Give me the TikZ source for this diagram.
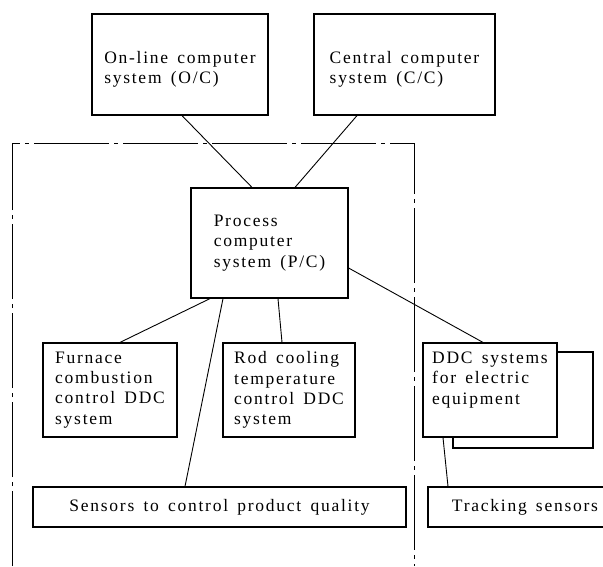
\documentclass[tikz,border=0pt]{standalone}
\usepackage{fontspec}
\setmainfont{Liberation Serif}[LetterSpace=10, WordSpace=1.5]

\begin{document}
\begin{tikzpicture}[x=1pt, y=-1pt,
  sysbox/.style={draw, line width=1.2pt, fill=white, align=left, inner sep=0pt,
     font=\fontsize{17.5pt}{20.3pt}\selectfont},
  link/.style={line width=0.9pt},
  boundary/.style={line width=0.9pt, dash pattern=on 75pt off 5pt on 4pt off 5pt}]
  \useasboundingbox (0,0) rectangle (603,566);
  \clip (0,0) rectangle (603,566);
  % plant boundary (open at the bottom)
  \draw[boundary] (12,566) -- (12,143) -- (414,143) -- (414,566);
  \node[sysbox, minimum width=176pt, minimum height=101pt, text height=42pt] (oc) at (180,64.5) {On-line computer\\system (O/C)};
  \node[sysbox, minimum width=181pt, minimum height=101pt, text height=42pt] (cc) at (404.5,64.5) {Central computer\\system (C/C)};
  \node[sysbox, minimum width=157pt, minimum height=110pt] (pc) at (269.5,243) {Process\\computer\\system (P/C)};
  \node[sysbox, minimum width=134pt, minimum height=94pt] (furn) at (110,390) {Furnace\\combustion\\control DDC\\system};
  \node[sysbox, minimum width=132pt, minimum height=94pt] (rod) at (289,390) {Rod cooling\\temperature\\control DDC\\system};
  \node[sysbox, minimum width=140pt, minimum height=96pt] (ddcback) at (523,400) {};
  \node[sysbox, minimum width=134pt, minimum height=94pt, text depth=24pt] (ddc) at (490,390) {DDC systems\\for electric\\equipment};
  \node[sysbox, minimum width=373pt, minimum height=40pt] (qual) at (219.5,507) {Sensors to control product quality};
  \node[sysbox, minimum width=194pt, minimum height=40pt] (track) at (525,507) {Tracking sensors};
  % links
  \draw[link] ([xshift=2pt]oc.south) -- ([xshift=-17.5pt]pc.north);
  \draw[link] ([xshift=-47.5pt]cc.south) -- ([xshift=25.5pt]pc.north);
  \draw[link] ([xshift=-59.5pt]pc.south) -- ([xshift=10pt]furn.north);
  \draw[link] ([xshift=8.5pt]pc.south) -- ([xshift=-7pt]rod.north);
  \draw[link] ([xshift=-46.5pt]pc.south) -- ([xshift=-34.5pt]qual.north);
  \draw[link] ([yshift=-25pt]pc.east) -- ([xshift=-7pt]ddc.north);
  \draw[link] ([xshift=-47pt]ddc.south) -- ([xshift=-77pt]track.north);
\end{tikzpicture}
\end{document}
